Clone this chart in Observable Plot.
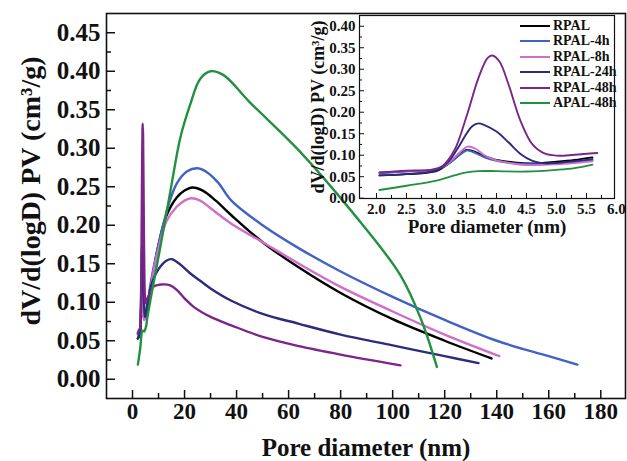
<!DOCTYPE html>
<html><head><meta charset="utf-8">
<script src="https://cdn.jsdelivr.net/npm/d3@7"></script>
<script src="https://cdn.jsdelivr.net/npm/@observablehq/plot@0.6"></script>
<style>
body{margin:0;background:#fff;}
#wrap{position:relative;width:627px;height:461px;overflow:hidden;}
#wrap svg{position:absolute;}
#legend{position:absolute;left:520px;top:18px;font:bold 14px "Liberation Serif";color:#111;}
#legend .row{height:15.5px;display:flex;align-items:center;white-space:nowrap;}
#legend .sw{width:30px;height:2px;margin-right:3px;}
</style></head><body><div id="wrap"></div>
<script>
const seriesNames = ["RPAL", "RPAL-4h", "RPAL-8h", "RPAL-24h", "RPAL-48h", "APAL-48h"];
const seriesColors = ["#000000", "#4062c4", "#cf6fc9", "#2c2c7c", "#7c2588", "#22913f"];

const rpal = [[2.05,0.053],[2.5,0.056],[3.0,0.063],[3.2,0.080],[3.4,0.103],[3.5,0.112],[3.6,0.110],[3.8,0.098],[4.0,0.089],[4.3,0.083],[4.6,0.081],[5.0,0.085],[5.3,0.089],[5.6,0.095],
  [7,0.12],[10,0.175],[13,0.212],[17,0.236],[20,0.245],[23,0.249],[27,0.245],[32,0.232],[38,0.213],[50,0.178],[64,0.145],[80,0.112],[100,0.078],[120,0.05],[138,0.027]];
const rpal4h = [[2.05,0.058],[2.5,0.062],[3.0,0.067],[3.2,0.08],[3.4,0.102],[3.5,0.111],[3.6,0.108],[3.8,0.095],[4.0,0.087],[4.3,0.081],[4.6,0.079],[5.0,0.081],[5.3,0.084],[5.6,0.088],
  [7,0.125],[10.7,0.185],[14,0.228],[17,0.254],[21,0.27],[25,0.274],[29,0.268],[33,0.255],[38,0.232],[50,0.2],[64,0.17],[80,0.14],[100,0.107],[120,0.077],[140,0.05],[160,0.03],[171,0.019]];
const rpal8h = [[2.05,0.060],[2.5,0.063],[3.0,0.067],[3.2,0.082],[3.4,0.108],[3.52,0.120],[3.65,0.115],[3.8,0.100],[4.0,0.088],[4.3,0.080],[4.5,0.077],[5.0,0.079],[5.3,0.082],[5.6,0.086],
  [7,0.12],[10,0.17],[13,0.205],[17,0.224],[20,0.232],[22.5,0.235],[26,0.232],[30,0.222],[38,0.202],[50,0.178],[64,0.15],[80,0.12],[100,0.088],[120,0.058],[141,0.03]];
const rpal24h = [[2.05,0.053],[2.5,0.056],[3.0,0.065],[3.2,0.085],[3.35,0.115],[3.5,0.150],[3.6,0.168],[3.7,0.174],[3.8,0.170],[4.0,0.155],[4.2,0.13],[4.4,0.103],[4.6,0.087],[4.8,0.081],[5.0,0.082],[5.3,0.086],[5.6,0.091],
  [7,0.12],[10,0.143],[13,0.154],[15,0.156],[18,0.15],[22,0.138],[26,0.128],[30,0.118],[38,0.102],[50,0.085],[64,0.072],[80,0.058],[100,0.044],[120,0.030],[133,0.021]];
const rpal48h = [[2.05,0.060],[2.5,0.064],[2.9,0.066],[3.1,0.075],[3.3,0.112],[3.5,0.19],[3.7,0.28],[3.85,0.326],[3.93,0.332],[4.05,0.318],[4.2,0.265],[4.4,0.18],[4.6,0.125],[4.8,0.104],[5.0,0.099],[5.3,0.101],[5.68,0.105],
  [6.5,0.11],[8,0.12],[11,0.123],[14.5,0.122],[17,0.116],[20,0.105],[23.5,0.094],[30,0.081],[38,0.07],[50,0.055],[64,0.043],[80,0.032],[103,0.018]];
const apal48h = [[2.05,0.019],[2.5,0.029],[3.0,0.041],[3.3,0.053],[3.5,0.060],[3.7,0.063],[4.0,0.063],[4.5,0.062],[5.0,0.066],[5.3,0.070],[5.6,0.078],
  [7,0.105],[10.7,0.172],[14.6,0.245],[18.4,0.314],[22,0.355],[26,0.39],[30,0.40],[35,0.395],[45,0.36],[64,0.297],[84,0.219],[103,0.135],[111,0.077],[117,0.016]];
const seriesPoints = [rpal, rpal4h, rpal8h, rpal24h, rpal48h, apal48h];

const mainXTicks = [0,20,40,60,80,100,120,140,160,180];
const mainXMinor = [10,30,50,70,90,110,130,150,170];
const mainYTicks = [0,0.05,0.10,0.15,0.20,0.25,0.30,0.35,0.40,0.45];
const mainYMinor = [0.025,0.075,0.125,0.175,0.225,0.275,0.325,0.375,0.425];
const insetXTicks = [2.0,2.5,3.0,3.5,4.0,4.5,5.0,5.5];
const insetXLabels = [2.0,2.5,3.0,3.5,4.0,4.5,5.0,5.5,6.0];
const insetXMinor = [2.25,2.75,3.25,3.75,4.25,4.75,5.25,5.75];
const insetYTicks = [0,0.05,0.10,0.15,0.20,0.25,0.30,0.35,0.40];
const insetYMinor = [0.025,0.075,0.125,0.175,0.225,0.275,0.325,0.375];

const xTitle = "Pore diameter (nm)";
const yTitle = "dV/d(logD) PV (cm\u00B3/g)";

const rows = seriesNames.flatMap((name, i) => seriesPoints[i].map(([x, y]) => ({name, x, y})));
const insetRows = rows.filter(d => d.x <= 5.7);
const blank = () => "";
const f2 = d3.format(".2f");
const f1 = d3.format(".1f");
const font = "Liberation Serif";

const main = Plot.plot({
  width: 627, height: 461,
  marginLeft: 106, marginRight: 2, marginTop: 13, marginBottom: 63,
  x: {domain: [-10, 189.5]},
  y: {domain: [-0.025, 0.475]},
  color: {domain: seriesNames, range: seriesColors},
  style: {fontFamily: font, fontWeight: "bold", background: "transparent", color: "#111"},
  marks: [
    Plot.line(rows, {x: "x", y: "y", z: "name", stroke: "name", strokeWidth: 2.4, curve: "catmull-rom"}),
    Plot.axisX(mainXTicks, {tickSize: -8, tickFormat: blank, label: null, strokeWidth: 1.5}),
    Plot.axisX(mainXMinor, {tickSize: -5, tickFormat: blank, label: null, strokeWidth: 1.5}),
    Plot.axisX(mainXTicks, {tickSize: 0, tickPadding: 4, tickFormat: d => String(d), fontSize: 23, label: null}),
    Plot.axisY(mainYTicks, {tickSize: -9, tickFormat: blank, label: null, strokeWidth: 1.5}),
    Plot.axisY(mainYMinor, {tickSize: -5, tickFormat: blank, label: null, strokeWidth: 1.5}),
    Plot.axisY(mainYTicks, {tickSize: 0, tickPadding: 6, tickFormat: f2, fontSize: 25, label: null}),
    Plot.frame({stroke: "#111", strokeWidth: 1.6}),
    Plot.text([xTitle], {frameAnchor: "bottom", dy: 49, fontSize: 25, textAnchor: "middle", lineAnchor: "middle", fill: "#111"}),
    Plot.text([yTitle], {frameAnchor: "left", rotate: -90, dx: -75, dy: -15, fontSize: 28, textAnchor: "middle", lineAnchor: "middle", fill: "#111"})
  ]
});

const inset = Plot.plot({
  width: 327, height: 240,
  marginLeft: 59, marginRight: 13, marginTop: 15, marginBottom: 42,
  x: {domain: [1.717, 5.967]},
  y: {domain: [-0.0007, 0.425]},
  color: {domain: seriesNames, range: seriesColors},
  style: {fontFamily: font, fontWeight: "bold", background: "transparent", color: "#111"},
  marks: [
    Plot.line(insetRows, {x: "x", y: "y", z: "name", stroke: "name", strokeWidth: 1.9, curve: "catmull-rom"}),
    Plot.axisX(insetXTicks, {tickSize: -5, tickFormat: blank, label: null}),
    Plot.axisX(insetXMinor, {tickSize: -3, tickFormat: blank, label: null}),
    Plot.axisX(insetXLabels, {tickSize: 0, tickPadding: 5, tickFormat: f1, fontSize: 15, label: null}),
    Plot.axisY(insetYTicks, {tickSize: -5, tickFormat: blank, label: null}),
    Plot.axisY(insetYMinor, {tickSize: -3, tickFormat: blank, label: null}),
    Plot.axisY(insetYTicks, {tickSize: 0, tickPadding: 4, tickFormat: f2, fontSize: 15, label: null}),
    Plot.frame({stroke: "#111", strokeWidth: 1.2}),
    Plot.text([xTitle], {frameAnchor: "bottom", dy: 28, fontSize: 19, textAnchor: "middle", lineAnchor: "middle", fill: "#111"}),
    Plot.text([yTitle], {frameAnchor: "left", rotate: -90, dx: -41, fontSize: 18, textAnchor: "middle", lineAnchor: "middle", fill: "#111"})
  ]
});
inset.style.left = "300px";
inset.style.top = "0px";

const wrap = document.getElementById("wrap");
main.style.left = "0px"; main.style.top = "0px";
wrap.appendChild(main);
wrap.appendChild(inset);

const legend = document.createElement("div");
legend.id = "legend";
seriesNames.forEach((name, i) => {
  const row = document.createElement("div");
  row.className = "row";
  const sw = document.createElement("span");
  sw.className = "sw";
  sw.style.background = seriesColors[i];
  const lab = document.createElement("span");
  lab.textContent = name;
  row.appendChild(sw); row.appendChild(lab);
  legend.appendChild(row);
});
wrap.appendChild(legend);
</script>
</body></html>
